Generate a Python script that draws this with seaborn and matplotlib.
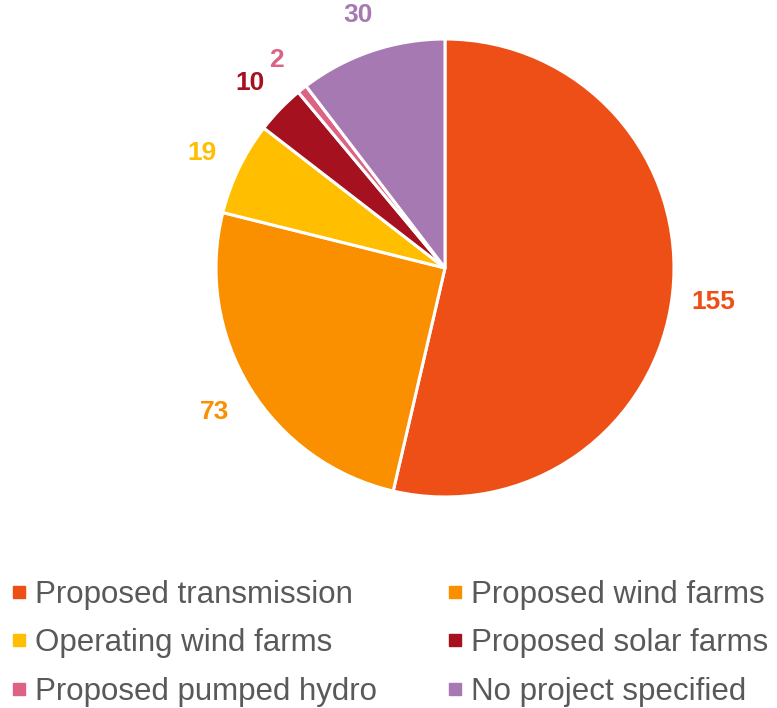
import matplotlib
matplotlib.use("Agg")
import matplotlib.pyplot as plt
from matplotlib.lines import Line2D
import seaborn as sns

categories = ["Proposed transmission", "Proposed wind farms", "Operating wind farms",
              "Proposed solar farms", "Proposed pumped hydro", "No project specified"]
values = [155, 73, 19, 10, 2, 30]
colors = ["#EE4F17", "#FA8F00", "#FFBF00", "#A5111F", "#DC6384", "#A779B3"]

sns.set_theme(style="white")
plt.rcParams['font.family'] = ['Liberation Sans', 'DejaVu Sans']
palette = sns.color_palette(colors)

fig = plt.figure(figsize=(7.77, 7.08), dpi=100)
ax = fig.add_axes([216/777, 211/708, 458/777, 458/708])
wedges, texts = ax.pie(values, colors=palette, startangle=90, counterclock=False,
                       labels=[str(v) for v in values], labeldistance=1.18,
                       wedgeprops=dict(edgecolor="white", linewidth=2.2),
                       textprops=dict(fontsize=19, fontweight="bold"))
for t, c in zip(texts, palette):
    t.set_color(c)
    t.set_horizontalalignment("center")
    t.set_verticalalignment("center")
    x, y = t.get_position()
    t.set_position((x, y - 0.012))
ax.set_xlim(-1, 1)
ax.set_ylim(-1, 1)
ax.set_aspect("equal")
ax.axis("off")

order = [0, 2, 4, 1, 3, 5]
handles = [Line2D([], [], marker="s", linestyle="none", markersize=8.5,
                  markerfacecolor=palette[i], markeredgecolor=palette[i]) for i in order]
labels = [categories[i] for i in order]
leg = fig.legend(handles, labels, loc="lower left", bbox_to_anchor=(0.0, -0.012),
                 ncol=2, frameon=False, fontsize=22.5, handlelength=0.6,
                 handletextpad=0.22, columnspacing=2.2, labelspacing=0.6,
                 borderaxespad=0.0, borderpad=0.3)
for t in leg.get_texts():
    t.set_color("#595959")

fig.savefig("out.png", dpi=100)
